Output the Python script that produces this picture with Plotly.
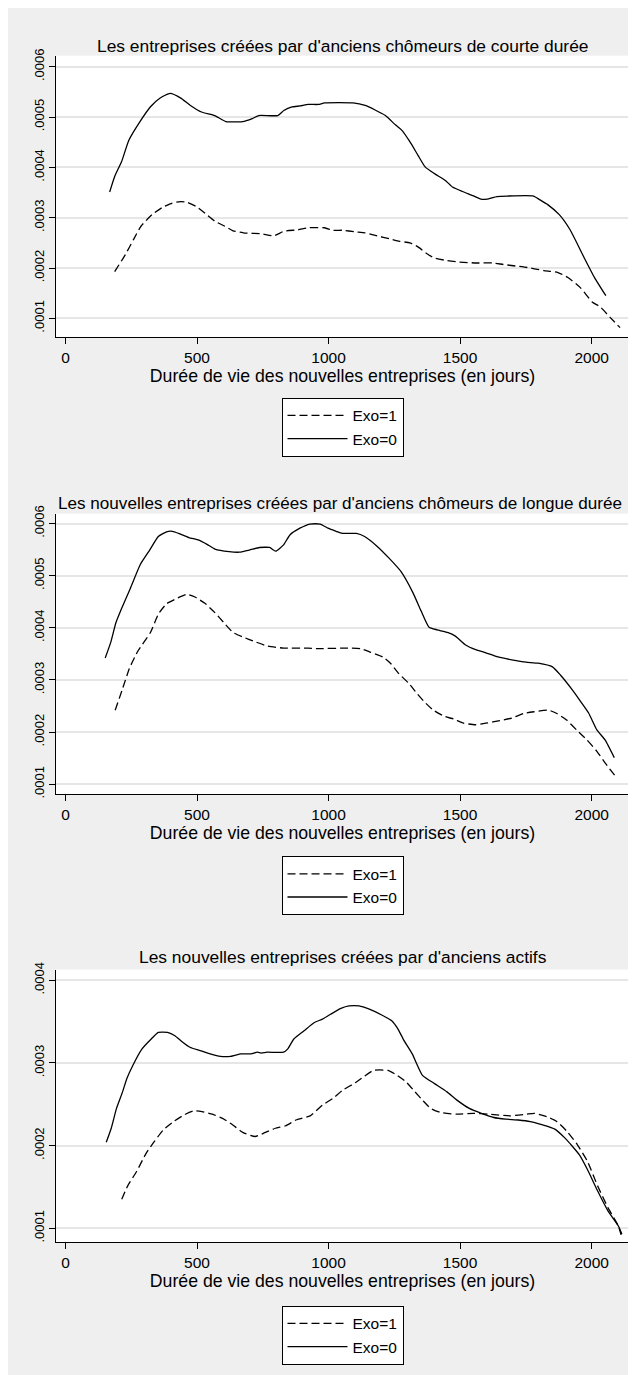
import plotly.graph_objects as go

# figure sits at an 8px body offset inside the 636x1375 window
OFF = 8
W, H = 628, 1367

# ---------------- data ----------------
panel_titles = [
    "Les entreprises créées par d'anciens chômeurs de courte durée",
    "Les nouvelles entreprises créées par d'anciens chômeurs de longue durée",
    "Les nouvelles entreprises créées par d'anciens actifs",
]
x_axis_title = "Durée de vie des nouvelles entreprises (en jours)"
series_names = ["Exo=1", "Exo=0"]

x_tickvals = [0, 500, 1000, 1500, 2000]
x_ticktext = ["0", "500", "1000", "1500", "2000"]
y_tickvals_a = [0.0001, 0.0002, 0.0003, 0.0004, 0.0005, 0.0006]
y_ticktext_a = [".0001", ".0002", ".0003", ".0004", ".0005", ".0006"]
y_tickvals_b = [0.0001, 0.0002, 0.0003, 0.0004]
y_ticktext_b = [".0001", ".0002", ".0003", ".0004"]

# Panel 1 : chômeurs de courte durée
p1_exo1_x = [187, 228, 259, 287, 329, 367, 406, 437, 460, 498, 537, 568, 606, 637, 676, 745, 792, 830,
             884, 923, 985, 1015, 1054, 1100, 1139, 1185, 1231, 1270, 1309, 1340, 1370, 1401, 1448,
             1494, 1563, 1625, 1664, 1710, 1756, 1818, 1872, 1910, 1957, 2003, 2032, 2070, 2108]
p1_exo1_y = [0.000193, 0.000227, 0.000257, 0.000283, 0.000306, 0.000320, 0.000329, 0.000332, 0.000331,
             0.000322, 0.000306, 0.000293, 0.000283, 0.000274, 0.000270, 0.000268, 0.000264, 0.000273,
             0.000276, 0.000280, 0.000280, 0.000275, 0.000275, 0.000272, 0.000270, 0.000264, 0.000258,
             0.000253, 0.000250, 0.000242, 0.000230, 0.000220, 0.000215, 0.000212, 0.000210, 0.000210,
             0.000207, 0.000204, 0.000201, 0.000195, 0.000191, 0.000181, 0.000161, 0.000132, 0.000123,
             0.000102, 0.0000815]
p1_exo0_x = [168, 187, 213, 241, 282, 324, 360, 398, 437, 475, 517, 567, 610, 673, 710, 735, 807, 830,
             861, 892, 923, 961, 985, 1093, 1139, 1177, 1216, 1255, 1278, 1309, 1340, 1367, 1401, 1444,
             1471, 1509, 1548, 1579, 1602, 1640, 1679, 1779, 1802, 1833, 1877, 1918, 1972, 2011, 2054]
p1_exo0_y = [0.000351, 0.000382, 0.000411, 0.000454, 0.000490, 0.000521, 0.000538, 0.000547, 0.000538,
             0.000523, 0.000510, 0.000503, 0.000491, 0.000491, 0.000497, 0.000503, 0.000503, 0.000513,
             0.000520, 0.000522, 0.000525, 0.000525, 0.000528, 0.000528, 0.000523, 0.000514, 0.000503,
             0.000484, 0.000474, 0.000451, 0.000424, 0.000401, 0.000388, 0.000374, 0.000361, 0.000352,
             0.000344, 0.000337, 0.000337, 0.000342, 0.000343, 0.000343, 0.000336, 0.000326, 0.000306,
             0.000276, 0.000220, 0.000181, 0.000145]

# Panel 2 : chômeurs de longue durée
p2_exo1_x = [189, 215, 243, 276, 323, 353, 384, 422, 461, 492, 530, 568, 607, 637, 676, 722, 768, 829,
             922, 952, 1075, 1121, 1160, 1206, 1237, 1267, 1306, 1336, 1364, 1398, 1441, 1475, 1513,
             1559, 1598, 1651, 1697, 1743, 1782, 1836, 1866, 1905, 1943, 1982, 2020, 2051, 2089]
p2_exo1_y = [0.000242, 0.000280, 0.000322, 0.000356, 0.000391, 0.000426, 0.000446, 0.000456, 0.000464,
             0.000459, 0.000447, 0.000429, 0.000407, 0.000391, 0.000382, 0.000373, 0.000365, 0.000361,
             0.000361, 0.000360, 0.000361, 0.000360, 0.000353, 0.000344, 0.000331, 0.000312, 0.000293,
             0.000274, 0.000258, 0.000242, 0.000230, 0.000225, 0.000217, 0.000214, 0.000217, 0.000222,
             0.000227, 0.000236, 0.000239, 0.000242, 0.000236, 0.000223, 0.000204, 0.000185, 0.000163,
             0.000141, 0.000116]
p2_exo0_x = [151, 172, 192, 215, 246, 284, 320, 353, 384, 407, 430, 469, 507, 538, 568, 622, 661, 699,
             737, 776, 799, 829, 853, 891, 929, 968, 998, 1029, 1052, 1106, 1137, 1183, 1229, 1275, 1321,
             1352, 1382, 1413, 1452, 1482, 1521, 1559, 1598, 1644, 1713, 1751, 1797, 1851, 1882, 1928,
             1959, 1989, 2020, 2051, 2086]
p2_exo0_y = [0.000342, 0.000372, 0.000410, 0.000439, 0.000475, 0.000521, 0.000549, 0.000575, 0.000584,
             0.000585, 0.000581, 0.000573, 0.000568, 0.000560, 0.000551, 0.000546, 0.000545, 0.000549,
             0.000554, 0.000554, 0.000547, 0.000559, 0.000578, 0.000591, 0.000599, 0.000599, 0.000591,
             0.000585, 0.000581, 0.000581, 0.000575, 0.000557, 0.000534, 0.000508, 0.000467, 0.000432,
             0.000401, 0.000396, 0.000391, 0.000384, 0.000367, 0.000358, 0.000352, 0.000344, 0.000337,
             0.000334, 0.000332, 0.000325, 0.000309, 0.000280, 0.000258, 0.000236, 0.000204, 0.000185,
             0.000151]

# Panel 3 : anciens actifs
p3_exo1_x = [214, 236, 271, 307, 338, 372, 411, 450, 488, 519, 558, 597, 636, 674, 721, 760, 798, 837,
             876, 930, 977, 1016, 1054, 1101, 1132, 1171, 1225, 1256, 1295, 1326, 1357, 1388, 1426,
             1488, 1550, 1612, 1690, 1752, 1783, 1829, 1868, 1907, 1946, 1984, 2023, 2062, 2101, 2112]
p3_exo1_y = [0.000135, 0.000151, 0.000169, 0.000191, 0.000205, 0.000219, 0.000229, 0.000237, 0.000242,
             0.000241, 0.000238, 0.000233, 0.000225, 0.000216, 0.000211, 0.000216, 0.000221, 0.000224,
             0.000231, 0.000236, 0.000249, 0.000257, 0.000267, 0.000276, 0.000283, 0.000291, 0.000291,
             0.000286, 0.000277, 0.000266, 0.000255, 0.000245, 0.000240, 0.000238, 0.000239, 0.000238,
             0.000236, 0.000238, 0.000239, 0.000235, 0.000229, 0.000217, 0.000201, 0.000181, 0.000151,
             0.000125, 0.000103, 0.000092]
p3_exo0_x = [155, 174, 194, 217, 233, 256, 291, 326, 353, 388, 416, 442, 473, 512, 550, 589, 628, 667,
             705, 729, 744, 767, 829, 845, 868, 907, 946, 977, 1008, 1047, 1078, 1116, 1155, 1202, 1240,
             1264, 1287, 1318, 1357, 1403, 1450, 1488, 1535, 1581, 1628, 1674, 1721, 1767, 1814, 1860,
             1899, 1953, 1984, 2023, 2062, 2101, 2115]
p3_exo0_y = [0.000204, 0.000221, 0.000245, 0.000265, 0.000281, 0.000297, 0.000317, 0.000329, 0.000337,
             0.000337, 0.000333, 0.000326, 0.000319, 0.000315, 0.000311, 0.000308, 0.000308, 0.000311,
             0.000311, 0.000313, 0.000312, 0.000313, 0.000313, 0.000317, 0.000329, 0.000339, 0.000349,
             0.000353, 0.000359, 0.000366, 0.000369, 0.000369, 0.000365, 0.000358, 0.000351, 0.000341,
             0.000327, 0.000311, 0.000285, 0.000275, 0.000265, 0.000255, 0.000245, 0.000239, 0.000234,
             0.000232, 0.000231, 0.000229, 0.000225, 0.000220, 0.000209, 0.000189, 0.000171, 0.000145,
             0.000121, 0.000103, 0.000093]

# ---------------- layout (page pixels) ----------------
FONT = "Liberation Sans, Arial, sans-serif"
PLOT_L, PLOT_R = 56, 629
panels = [
    dict(top=48, bottom=332, yr=[0.0000626, 0.000622], ty=38, tx=342.5, tsize=17.4, leg=423,
         yt=(y_tickvals_a, y_ticktext_a),
         data=[(p1_exo1_x, p1_exo1_y), (p1_exo0_x, p1_exo0_y)]),
    dict(top=510, bottom=793, yr=[0.000081, 0.000619], ty=500, tx=340, tsize=17.1, leg=885.5,
         yt=(y_tickvals_a, y_ticktext_a),
         data=[(p2_exo1_x, p2_exo1_y), (p2_exo0_x, p2_exo0_y)]),
    dict(top=970, bottom=1245, yr=[0.0000832, 0.000413], ty=957, tx=342.5, tsize=17.4, leg=1339,
         yt=(y_tickvals_b, y_ticktext_b),
         data=[(p3_exo1_x, p3_exo1_y), (p3_exo0_x, p3_exo0_y)]),
]


def fx(px):
    return (px - OFF) / W


def fy(py):
    return 1 - (py - OFF) / H


fig = go.Figure()
layout = dict(
    width=W, height=H, margin=dict(l=0, r=0, t=0, b=0),
    paper_bgcolor="#efefef", plot_bgcolor="white",
    font=dict(family=FONT, color="black"),
    annotations=[],
)

dashes = ["8px,4px", "solid"]
for i, p in enumerate(panels):
    k = "" if i == 0 else str(i + 1)
    leg = "legend" if i == 0 else f"legend{i + 1}"
    for j, (xs, ys) in enumerate(p["data"]):
        fig.add_trace(go.Scatter(
            x=xs, y=ys, mode="lines", name=series_names[j],
            line=dict(color="black", width=1.3, dash=dashes[j], shape="spline", smoothing=0.5),
            xaxis="x" + k, yaxis="y" + k, legend=leg, showlegend=True,
        ))
    layout["xaxis" + k] = dict(
        domain=[fx(PLOT_L), fx(PLOT_R)], anchor="y" + k, range=[-36, 2142],
        tickvals=x_tickvals, ticktext=x_ticktext, ticks="outside", ticklen=6, tickwidth=1.2,
        tickcolor="black", showline=True, linecolor="black", linewidth=1.3, showgrid=False,
        zeroline=False, tickfont=dict(size=15.5),
        title=dict(text=x_axis_title, font=dict(size=17.7), standoff=4),
    )
    layout["yaxis" + k] = dict(
        domain=[fy(p["bottom"]), fy(p["top"])], anchor="x" + k, range=p["yr"],
        tickvals=p["yt"][0], ticktext=p["yt"][1], tickangle=-90, ticks="outside", ticklen=6,
        tickwidth=1.2, tickcolor="black", showline=True, linecolor="black", linewidth=1.3,
        showgrid=True, gridcolor="#e6e6e6", gridwidth=1.5, zeroline=False,
        tickfont=dict(size=13),
    )
    layout[leg] = dict(
        x=fx(342.5), xanchor="center", y=fy(p["leg"]), yanchor="middle",
        bgcolor="white", bordercolor="black", borderwidth=1, itemwidth=60,
        font=dict(size=15.5), traceorder="normal", orientation="v",
    )
    layout["annotations"].append(dict(
        text=panel_titles[i], xref="paper", yref="paper", x=fx(p["tx"]),
        y=fy(p["ty"]), xanchor="center", yanchor="middle", showarrow=False,
        font=dict(size=p["tsize"]),
    ))

fig.update_layout(**layout)
fig.write_html("out.html")
